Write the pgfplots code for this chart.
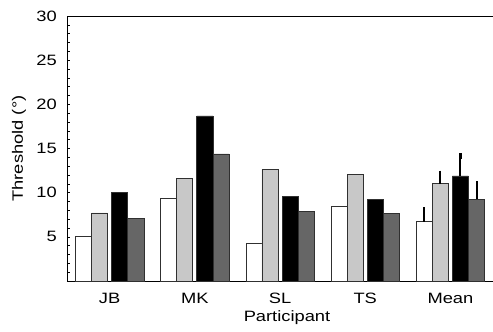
\documentclass[border=0pt]{standalone}
\usepackage{pgfplots}
\pgfplotsset{compat=1.18}
\usepackage{fontspec}
\setmainfont{Liberation Sans}[FakeStretch=1.22]
\definecolor{lgray}{HTML}{C8C8C8}
\definecolor{dgray}{HTML}{666666}
\definecolor{edge}{HTML}{303030}
\begin{document}
\fontsize{15}{18}\selectfont
\begin{tikzpicture}
\begin{axis}[
  scale only axis, width=426pt, height=265pt,
  xmin=-0.5, xmax=4.5, ymin=0, ymax=30,
  axis lines=left, axis line style={-, line width=0.8pt, black},
  ybar, bar width=0.188,
  xtick={0,1,2,3,4}, xticklabels={JB,MK,SL,TS,Mean},
  xtick style={draw=none},
  ytick={5,10,15,20,25,30},
  minor ytick={1,2,3,4,6,7,8,9,11,12,13,14,16,17,18,19,21,22,23,24,26,27,28,29},
  tick align=inside,
  major tick length=3pt, minor tick length=3pt,
  ytick style={line width=0.6pt, black},
  /pgf/number format/assume math mode=true,
  tick label style={font=\fontsize{15}{18}\selectfont},
  label style={font=\fontsize{15}{18}\selectfont},
  xlabel={Participant}, ylabel={Threshold (°)},
  every axis x label/.style={at={(axis description cs:0.5,0)}, anchor=center, xshift=7pt, yshift=-37pt},
  every axis y label/.style={at={(axis description cs:0,0.5)}, anchor=center, xshift=-48pt, rotate=90},
  xticklabel style={anchor=base, yshift=-22pt},
  yticklabel style={anchor=east, xshift=-5pt},
  /pgfplots/error bars/y dir=plus,
  /pgfplots/error bars/y explicit,
  /pgfplots/error bars/error bar style={line width=2pt, black, solid},
  /pgfplots/error bars/error mark=-,
  /pgfplots/error bars/error mark options={line width=2.2pt, mark size=2.6pt, black, solid},
]
\coordinate (bl) at (rel axis cs:0,0);
\coordinate (tr) at (rel axis cs:1,1);
\draw[line width=0.8pt] (rel axis cs:0,1) -- (rel axis cs:1,1);
% white
\addplot[draw=edge, line width=0.7pt, fill=white, bar shift=-0.306] coordinates {(0,5.0) (1,9.36) (2,4.23) (3,8.41) (4,6.72) +- (0,1.32)};
% light gray
\addplot[draw=edge, line width=0.7pt, fill=lgray, bar shift=-0.118] coordinates {(0,7.7) (1,11.66) (2,12.64) (3,12.08) (4,11.02) +- (0,1.17)};
% black
\addplot[draw=edge, line width=0.7pt, fill=black, bar shift=0.118] coordinates {(0,10.0) (1,18.68) (2,9.62) (3,9.28) (4,11.89) +- (0,2.26)};
% dark gray
\addplot[draw=edge, line width=0.7pt, fill=dgray, bar shift=0.308] coordinates {(0,7.05) (1,14.38) (2,7.89) (3,7.66) (4,9.25) +- (0,1.73)};
\end{axis}
\pgfresetboundingbox
\path ([xshift=-67pt,yshift=-50pt]bl) rectangle ([yshift=16pt]tr);
\end{tikzpicture}
\end{document}
